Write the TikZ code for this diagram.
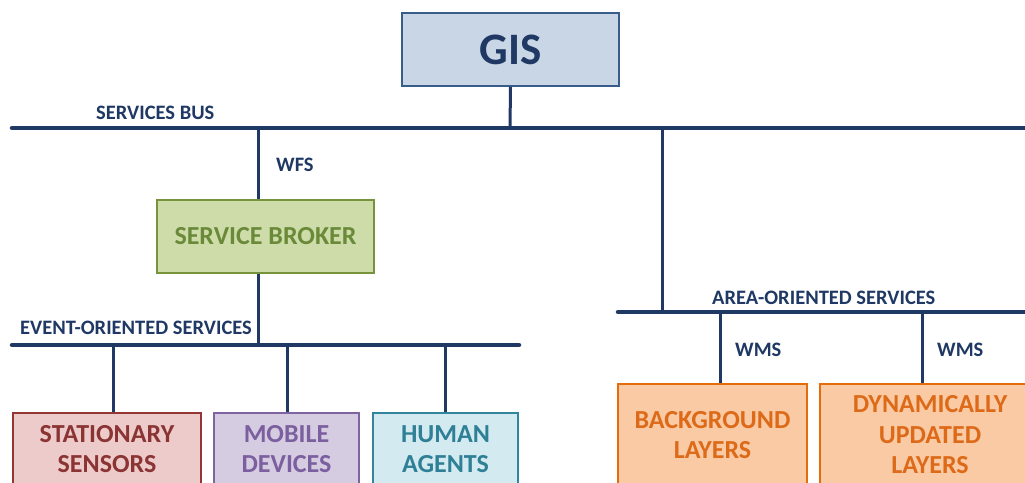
\documentclass[tikz,border=0pt]{standalone}
\usepackage{fontspec}
\setmainfont{Carlito}
\definecolor{navy}{HTML}{1F3864}
\definecolor{gisfill}{HTML}{C9D6E5}
\definecolor{gisdraw}{HTML}{385D8A}
\definecolor{brfill}{HTML}{CDDCA8}
\definecolor{brdraw}{HTML}{77933C}
\definecolor{brtext}{HTML}{6A8A3A}
\definecolor{stfill}{HTML}{EDCBCA}
\definecolor{stdraw}{HTML}{943634}
\definecolor{sttext}{HTML}{8A3433}
\definecolor{mofill}{HTML}{D6CCE2}
\definecolor{modraw}{HTML}{8064A2}
\definecolor{motext}{HTML}{7B5F9F}
\definecolor{hufill}{HTML}{D3EAF0}
\definecolor{hudraw}{HTML}{31859C}
\definecolor{hutext}{HTML}{2F8096}
\definecolor{orfill}{HTML}{F9CAA4}
\definecolor{ordraw}{HTML}{E46C0A}
\definecolor{ortext}{HTML}{DD6A18}
\begin{document}
\begin{tikzpicture}[x=1pt,y=-1pt,
  box/.style={draw, line width=1.5pt, align=center, inner sep=0pt,
    font=\bfseries\fontsize{26}{30.5}\selectfont},
  bus/.style={navy, line width=4.5pt, line cap=round},
  conn/.style={navy, line width=3pt},
  lbl/.style={navy, font=\bfseries\fontsize{20.5}{22}\selectfont, inner sep=0pt}]
\clip (0,0) rectangle (1025,482);
\fill[white] (0,0) rectangle (1025,482);
% GIS
\node[box, draw=gisdraw, fill=gisfill, text=navy, minimum width=217pt, minimum height=73pt,
  font=\bfseries\fontsize{45}{48}\selectfont] (gis) at (510.5,49.5) {GIS};
% services bus
\coordinate (sbL) at (12,128);
\coordinate (sbR) at (1040,128);
\coordinate (sbG) at (510,128);
\coordinate (sbW) at (258,128);
\coordinate (sbA) at (662,128);
\draw[conn] (gis.south) -- (sbG);
\draw[conn] (sbA) -- (662,312);
\node[lbl, anchor=west] (sblbl) at (96,113) {SERVICES BUS};
\node[lbl, anchor=west] (wfs) at (276,165) {WFS};
% broker
\node[box, draw=brdraw, fill=brfill, text=brtext, minimum width=217pt, minimum height=73pt] (broker) at (265.5,236.5) {SERVICE BROKER};
\draw[conn] (sbW) -- (sbW |- broker.north);
% event bus
\coordinate (ebL) at (12,345);
\coordinate (ebR) at (519,345);
\coordinate (ebB) at (258,345);
\draw[conn] (ebB |- broker.south) -- (ebB);
\node[lbl, anchor=west] (eblbl) at (20,328) {EVENT-ORIENTED SERVICES};
% event boxes
\node[box, draw=stdraw, fill=stfill, text=sttext, minimum width=188pt, minimum height=72pt] (st) at (107,449) {STATIONARY\\SENSORS};
\node[box, draw=modraw, fill=mofill, text=motext, minimum width=145pt, minimum height=72pt] (mo) at (286.5,449) {MOBILE\\DEVICES};
\node[box, draw=hudraw, fill=hufill, text=hutext, minimum width=145pt, minimum height=72pt] (hu) at (445.5,449) {HUMAN\\AGENTS};
\coordinate (e1) at (113,345);
\coordinate (e2) at (287,345);
\coordinate (e3) at (445,345);
\draw[conn] (e1) -- (e1 |- st.north);
\draw[conn] (e2) -- (e2 |- mo.north);
\draw[conn] (e3) -- (e3 |- hu.north);
\draw[bus] (sbL) -- (sbR);
\draw[bus] (ebL) -- (ebR);
% area bus
\coordinate (abL) at (618,312);
\coordinate (abR) at (1040,312);
\node[lbl, anchor=west] (ablbl) at (712,298) {AREA-ORIENTED SERVICES};
\node[box, draw=ordraw, fill=orfill, text=ortext, minimum width=189pt, minimum height=102pt] (bg) at (712.5,435) {BACKGROUND\\LAYERS};
\node[box, draw=ordraw, fill=orfill, text=ortext, minimum width=220pt, minimum height=102pt] (dy) at (930,435) {DYNAMICALLY\\UPDATED\\LAYERS};
\coordinate (a1) at (720,312);
\coordinate (a2) at (922,312);
\draw[conn] (a1) -- (a1 |- bg.north);
\draw[conn] (a2) -- (a2 |- dy.north);
\node[lbl, anchor=west] (wms1) at (735,350) {WMS};
\node[lbl, anchor=west] (wms2) at (937,350) {WMS};
\draw[bus] (abL) -- (abR);
\end{tikzpicture}
\end{document}
